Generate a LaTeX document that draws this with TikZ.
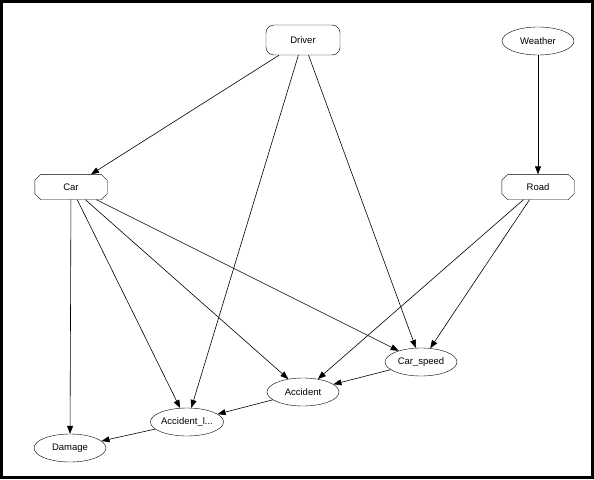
\documentclass[tikz,border=0pt]{standalone}
\usepackage{fontspec}
\setmainfont{Liberation Sans}
\usetikzlibrary{shapes.geometric, arrows.meta}

% outline with cut corners, drawn round a named node
\newcommand{\chamferbox}[1]{%
	\draw ([xshift=6pt]#1.north west) -- ([xshift=-6pt]#1.north east) -- ([yshift=-6pt]#1.north east)
		-- ([yshift=6pt]#1.south east) -- ([xshift=-6pt]#1.south east) -- ([xshift=6pt]#1.south west)
		-- ([yshift=6pt]#1.south west) -- ([yshift=-6pt]#1.north west) -- cycle;}

\tikzset{
	var/.style={draw, ellipse, minimum width=72pt, minimum height=28pt, inner sep=0pt, font=\fontsize{9.5}{11}\selectfont},
	rootbox/.style={draw, rounded corners=8pt, minimum width=74pt, minimum height=30pt, inner sep=0pt, font=\fontsize{9.5}{11}\selectfont},
	chambox/.style={rectangle, minimum width=72pt, minimum height=25pt, inner sep=0pt, font=\fontsize{9.5}{11}\selectfont},
	link/.style={-{Triangle[length=8pt,width=6pt]}, line width=0.6pt}
}

\begin{document}
\begin{tikzpicture}[x=1pt, y=-1pt]
			
			% Frame
			\useasboundingbox (0,0) rectangle (594,479);
			\draw[line width=2.6pt] (1.3,1.3) rectangle (592.7,477.7);
			
			% Top row
			\node[rootbox] (driver) at (303,40) {Driver};
			\node[var] (weather) at (538,41) {Weather};
			
			% Middle row
			\node[chambox] (car) at (71,187) {Car};
			\node[chambox] (road) at (538,187) {Road};
			\chamferbox{car}
			\chamferbox{road}
			
			% Bottom nodes
			\node[var] (carspeed) at (421,362) {Car\_speed};
			\node[var] (accident) at (303,392) {Accident};
			\node[var] (accl) at (187,422) {Accident\_l...};
			\node[var] (damage) at (70,448) {Damage};
			
			% Arrows from Driver
			\draw[link] (driver) -- (car);
			\draw[link] (driver) -- (accl);
			\draw[link] (driver) -- (carspeed);
			
			% Weather to Road
			\draw[link] (weather) -- (road);
			
			% Arrows from Car
			\draw[link] (car) -- (damage);
			\draw[link] (car) -- (accl);
			\draw[link] (car) -- (accident);
			\draw[link] (car) -- (carspeed);
			
			% Arrows from Road
			\draw[link] (road) -- (accident);
			\draw[link] (road) -- (carspeed);
			
			% Chain at the bottom
			\draw[link] (carspeed) -- (accident);
			\draw[link] (accident) -- (accl);
			\draw[link] (accl) -- (damage);
			
		\end{tikzpicture}
\end{document}
